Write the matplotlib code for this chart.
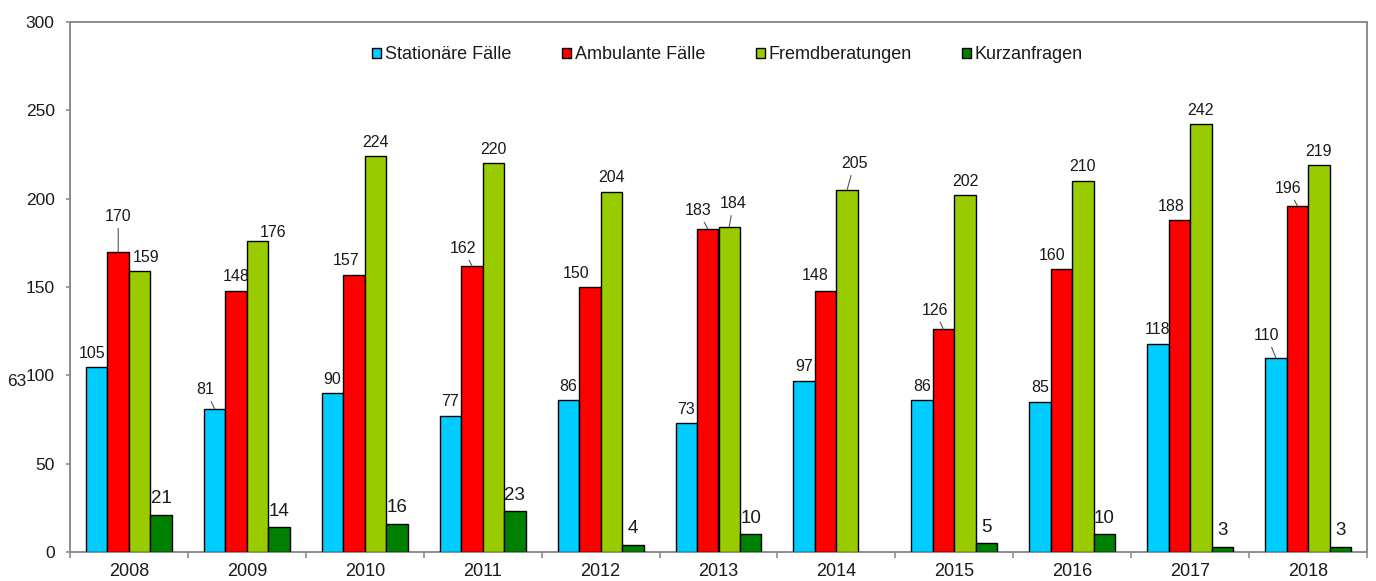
import numpy as np
import matplotlib
matplotlib.use('Agg')
import matplotlib.pyplot as plt

plt.rcParams['font.family'] = ['Liberation Sans', 'DejaVu Sans']

# data
years = ['2008', '2009', '2010', '2011', '2012', '2013', '2014', '2015', '2016', '2017', '2018']
stationaer = [105, 81, 90, 77, 86, 73, 97, 86, 85, 118, 110]
ambulant = [170, 148, 157, 162, 150, 183, 148, 126, 160, 188, 196]
fremd = [159, 176, 224, 220, 204, 184, 205, 202, 210, 242, 219]
kurz = [21, 14, 16, 23, 4, 10, np.nan, 5, 10, 3, 3]
series_names = ['Stationäre Fälle', 'Ambulante Fälle', 'Fremdberatungen', 'Kurzanfragen']

colors = ['#00CCFF', '#FF0000', '#99CC00', '#008000']
text_col = '#1a1a1a'
spine_col = '#8c8c8c'

# label offsets in pixels (dx, dy, leader line) where they differ from default
label_offsets = {
    (0, 0): (-5, 13, False), (0, 1): (-9, 19, True), (0, 10): (-9, 22, True),
    (1, 0): (0, 35, True), (1, 2): (-8, 14, False), (1, 3): (-9, 17, True),
    (1, 4): (-14, 14, False), (1, 5): (-10, 18, True), (1, 6): (-10, 15, False),
    (1, 7): (-9, 19, True), (1, 8): (-9, 14, False), (1, 9): (-8, 13, False),
    (1, 10): (-9, 17, True),
    (2, 0): (6, 14, False), (2, 1): (15, 9, False), (2, 5): (4, 23, True),
    (2, 6): (7, 26, True),
}

fig = plt.figure(figsize=(13.76, 5.81), dpi=100)
ax = fig.add_axes([70 / 1376, 1 - 552 / 581, 1297 / 1376, 530 / 581])

x = np.arange(len(years))
w = 0.182
all_series = [stationaer, ambulant, fremd, kurz]
for s, (vals, name, col) in enumerate(zip(all_series, series_names, colors)):
    xs = x + (s - 1.5) * w
    ax.bar(xs, vals, width=w, color=col, edgecolor='black', linewidth=1.0, label=name, zorder=3)
    fs = 13.5 if s == 3 else 11.5
    for i, v in enumerate(vals):
        if np.isnan(v):
            continue
        dx, dy, leader = label_offsets.get((s, i), (0, 14, False))
        if s == 3:
            dy = 16
        arrow = dict(arrowstyle='-', color='#555555', lw=0.8, shrinkA=1, shrinkB=0) if leader else None
        ax.annotate(f'{int(v)}', xy=(xs[i], v), xytext=(dx, dy), textcoords='offset pixels',
                    ha='center', va='center', fontsize=fs, color=text_col,
                    arrowprops=arrow, zorder=4)

ax.set_xlim(-0.5, len(years) - 0.5)
ax.set_ylim(0, 300)
ax.set_yticks(range(0, 301, 50))
ax.set_xticks(x)
ax.set_xticklabels(years)
ax.set_xticks(np.arange(-0.5, len(years), 1), minor=True)

ax.tick_params(axis='y', direction='out', length=3, width=1.2, color=spine_col,
               labelsize=12.5, labelcolor=text_col, pad=8)
ax.tick_params(axis='x', which='major', length=0, labelsize=13, labelcolor=text_col, pad=8)
ax.tick_params(axis='x', which='minor', direction='out', length=4, width=1.2, color=spine_col)

for sp in ax.spines.values():
    sp.set_color(spine_col)
    sp.set_linewidth(1.4)

leg = ax.legend(loc='center', bbox_to_anchor=(0.507, 0.938), ncol=4, frameon=False,
                fontsize=13, handlelength=0.5, handleheight=0.5, handletextpad=0.2,
                columnspacing=2.8, labelcolor=text_col)

# stray label left of the axis in the original
fig.text(7 / 1376, 1 - 382 / 581, '63', ha='left', va='center', fontsize=12.5, color=text_col)

fig.savefig('out.png', dpi=100)
